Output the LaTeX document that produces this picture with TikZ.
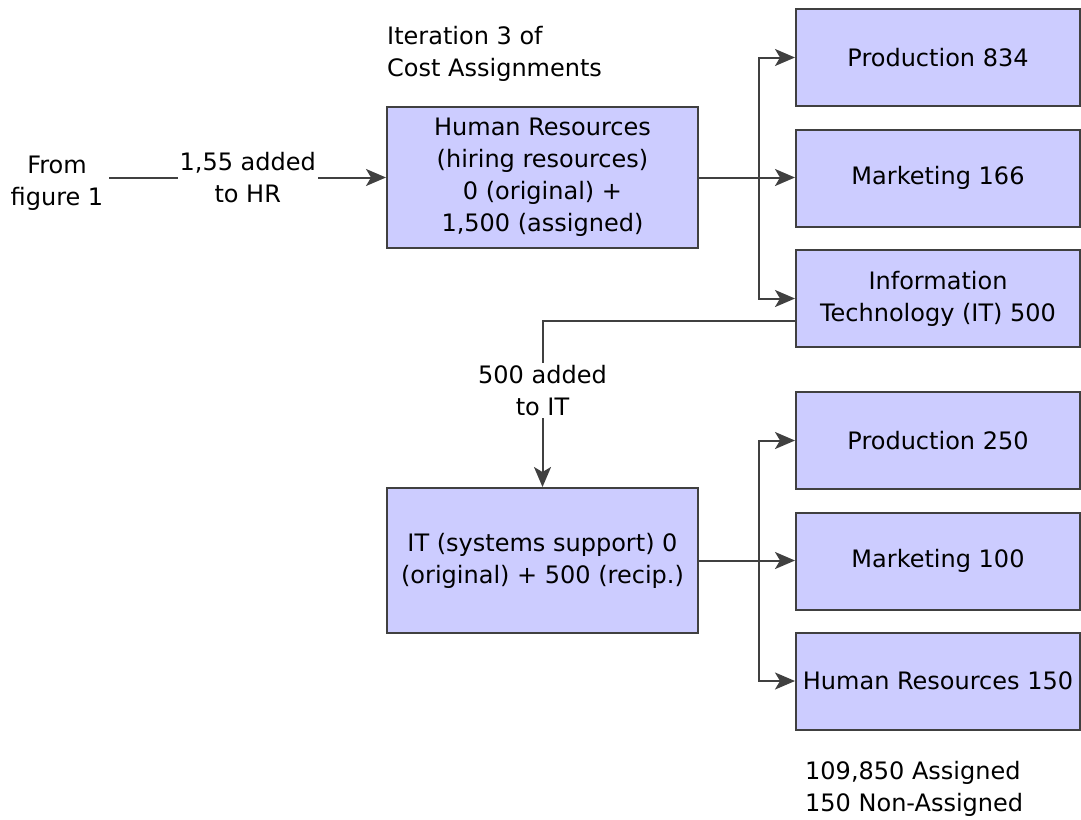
\documentclass[tikz,border=0pt]{standalone}
\usepackage{fontspec}
\setmainfont{DejaVu Sans}
\usetikzlibrary{arrows.meta}
\definecolor{boxfill}{HTML}{CCCCFF}
\definecolor{boxline}{HTML}{404040}
\begin{document}
\begin{tikzpicture}[x=1pt,y=-1pt,
   font=\fontsize{24}{32}\selectfont,
   box/.style={draw=boxline,fill=boxfill,line width=2pt,align=center,inner sep=0pt,minimum width=311pt},
   tbox/.style={box,minimum width=284pt,minimum height=97pt},
   lbl/.style={fill=white,align=center,inner sep=2pt},
   note/.style={align=left,inner sep=0pt,anchor=west},
   arr/.style={draw=boxline,line width=2pt,-{Stealth[length=20pt,width=17pt,inset=5pt]}}] % 1081x819
   \useasboundingbox (0,0) rectangle (1081,819);
   \node[note] (iter) at (387,54) {Iteration 3 of\\Cost Assignments};
   \node[align=center,inner sep=6pt] (fromfig) at (57,183) {From\\figure 1};
   \node[box,minimum height=141pt] (hr) at (542.5,177.5) {Human Resources\\(hiring resources)\\0 (original) +\\1,500 (assigned)};
   \node[box,minimum height=145pt] (itsup) at (542.5,560.5) {IT (systems support) 0\\(original) + 500 (recip.)};
   \node[tbox] (prod1) at (938,57.5) {Production 834};
   \node[tbox] (mkt1) at (938,178) {Marketing 166};
   \node[tbox] (info) at (938,298.5) {Information\\Technology (IT) 500};
   \node[tbox] (prod2) at (938,440.5) {Production 250};
   \node[tbox] (mkt2) at (938,561) {Marketing 100};
   \node[tbox] (hr2) at (938,681) {Human Resources 150};
   \node[note] (total) at (805,789) {109,850 Assigned\\150 Non-Assigned};
   \coordinate (fork1) at (759,177.5);
   \coordinate (fork2) at (759,561);
   \draw[arr] (fromfig.east |- hr.west) -- node[lbl] {1,55 added\\to HR} (hr.west);
   \draw[arr] (hr.east) -- (hr.east -| mkt1.west);
   \draw[arr] (fork1) |- (prod1.west);
   \draw[arr] (fork1) |- (info.west);
   \draw[arr] ([yshift=-22.5pt]info.west) -| node[lbl,pos=0.71] {500 added\\to IT} (itsup.north);
   \draw[arr] (itsup.east) -- (itsup.east -| mkt2.west);
   \draw[arr] (fork2) |- (prod2.west);
   \draw[arr] (fork2) |- (hr2.west);
\end{tikzpicture}
\end{document}
